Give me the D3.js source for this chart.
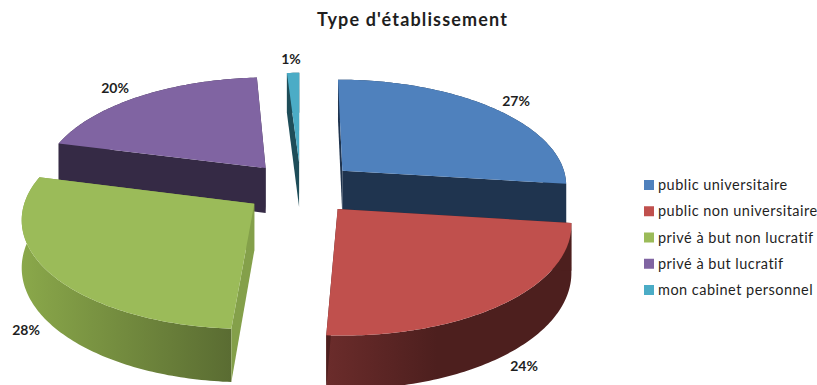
<!DOCTYPE html>
<html><head><meta charset="utf-8">
<script src="https://cdn.jsdelivr.net/npm/d3@7"></script>
<style>html,body{margin:0;padding:0;background:#fff}svg{display:block}text{font-family:Lato,"Open Sans",sans-serif;fill:#1f1f1f}</style>
</head><body><svg id="c" width="817" height="385"></svg>
<script>
const titleText = "Type d'établissement";
const categories = ["public universitaire","public non universitaire","privé à but non lucratif","privé à but lucratif","mon cabinet personnel"];
const values = [27,24,28,20,1];
const colors = ["#4f81bd","#c0504d","#9bbb59","#8064a2","#4bacc6"];
const wallColors = ["#1f344f","#4d1f1e","#84a04a","#352a45","#1e4d59"];
const rimDark = ["#1f344f","#4d1f1e","#5a6c32","#352a45","#1e4d59"];
const rimLight = ["#1f344f","#6b2c2b","#8aa84a","#352a45","#1e4d59"];
const labelAt = [[516,101],[524,366],[26,330],[115,88],[291,59]];

const cx=300.8, cy=188, R=226, T=106, K=0.12, D=46, EXPL=0.25;
const svg=d3.select("#c");
const sx=d3.scaleLinear().domain([-1,1]).range([cx-R,cx+R]);
const sy=d3.scaleLinear().domain([-1,1]).range([cy+T,cy-T]);
const total=d3.sum(values);
const arcs=d3.pie().sort(null)(values);
const project=(X,Z,h)=>{const w=1+K*Z;return [sx(X/w), sy(Z/w)+(h?D/w:0)];};
const line=d3.line();
const defs=svg.append("defs");

const slices=arcs.map((a,i)=>{
  const mid=(a.startAngle+a.endAngle)/2;
  const ox=EXPL*Math.sin(mid), oz=EXPL*Math.cos(mid);
  const n=Math.max(4,Math.round((a.endAngle-a.startAngle)*60));
  const ang=d3.range(n+1).map(k=>a.startAngle+(a.endAngle-a.startAngle)*k/n);
  const rim=h=>ang.map(t=>project(ox+Math.sin(t),oz+Math.cos(t),h));
  return {i,a,apex:h=>project(ox,oz,h),rim};
});
// back to front
const order=[4,3,0,2,1];
order.forEach(i=>{
  const s=slices[i];
  const g=svg.append("g");
  const rt=s.rim(false), rb=s.rim(true);
  const xs=rt.map(p=>p[0]);
  const id="rimg"+i;
  const lg=defs.append("linearGradient").attr("id",id).attr("gradientUnits","userSpaceOnUse")
    .attr("x1",d3.min(xs)).attr("x2",d3.max(xs)).attr("y1",0).attr("y2",0);
  lg.append("stop").attr("offset",0).attr("stop-color",rimLight[i]);
  lg.append("stop").attr("offset",i===1?0.45:1).attr("stop-color",rimDark[i]);
  g.append("path").attr("d",line(rt.concat(rb.slice().reverse()))+"Z").attr("fill",`url(#${id})`);
  const wall=(p)=>g.append("path").attr("d",line([s.apex(false),p[0],p[1],s.apex(true)])+"Z").attr("fill",wallColors[i]);
  wall([rt[0],rb[0]]);
  wall([rt[rt.length-1],rb[rb.length-1]]);
  g.append("path").attr("d",line([s.apex(false),...rt])+"Z").attr("fill",colors[i]);
});

labelAt.forEach((p,i)=>{
  svg.append("text").attr("x",p[0]).attr("y",p[1]).attr("dy","0.35em").attr("text-anchor","middle")
    .attr("font-size",14).attr("font-weight",700).text(Math.round(values[i]/total*100)+"%");
});
svg.append("text").attr("x",412.5).attr("y",20).attr("dy","0.35em").attr("text-anchor","middle")
  .attr("font-size",18).attr("letter-spacing","1.15px").attr("font-weight",700).attr("fill","#000").text(titleText);

const ly=d3.scalePoint().domain(categories).range([185,290]);
categories.forEach((c,i)=>{
  svg.append("rect").attr("x",644).attr("y",ly(c)-5).attr("width",10).attr("height",10).attr("fill",colors[i]);
  svg.append("text").attr("x",658).attr("y",ly(c)).attr("dy","0.35em").attr("font-size",14.5).attr("letter-spacing","0.48px").text(c);
});
</script></body></html>
